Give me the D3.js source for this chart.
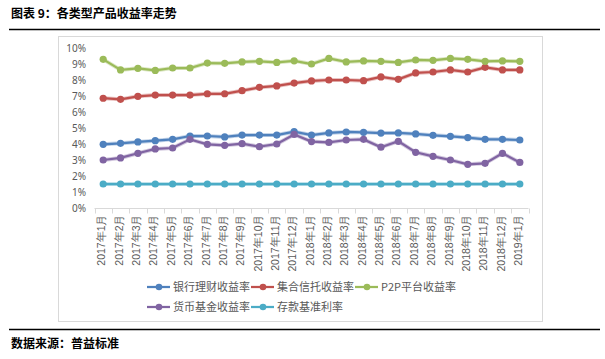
<!DOCTYPE html>
<html><head><meta charset="utf-8">
<script src="https://cdn.jsdelivr.net/npm/d3@7"></script>
<style>
html,body{margin:0;padding:0;background:#fff;}
svg{display:block;font-family:"Noto Sans CJK SC","Noto Sans",sans-serif;}
</style></head>
<body><svg id="c" width="605" height="359"></svg>
<script>
const categories = ["2017年1月","2017年2月","2017年3月","2017年4月","2017年5月","2017年6月","2017年7月","2017年8月","2017年9月","2017年10月","2017年11月","2017年12月","2018年1月","2018年2月","2018年3月","2018年4月","2018年5月","2018年6月","2018年7月","2018年8月","2018年9月","2018年10月","2018年11月","2018年12月","2019年1月"];
const bank  = [3.98,4.04,4.13,4.21,4.29,4.50,4.50,4.44,4.56,4.56,4.56,4.77,4.56,4.69,4.75,4.73,4.68,4.69,4.63,4.54,4.48,4.40,4.29,4.29,4.25];
const trust = [6.86,6.79,6.98,7.06,7.06,7.06,7.14,7.14,7.33,7.54,7.63,7.81,7.94,8.00,8.00,7.96,8.19,8.04,8.44,8.50,8.63,8.50,8.79,8.63,8.63];
const p2p   = [9.29,8.63,8.73,8.60,8.75,8.75,9.06,9.04,9.13,9.17,9.10,9.20,9.00,9.35,9.13,9.19,9.17,9.10,9.25,9.23,9.35,9.29,9.17,9.19,9.17];
const money = [3.00,3.13,3.42,3.69,3.75,4.29,3.98,3.92,4.02,3.83,4.00,4.60,4.15,4.10,4.25,4.29,3.80,4.17,3.48,3.23,3.00,2.73,2.79,3.42,2.85];
const deposit = [1.5,1.5,1.5,1.5,1.5,1.5,1.5,1.5,1.5,1.5,1.5,1.5,1.5,1.5,1.5,1.5,1.5,1.5,1.5,1.5,1.5,1.5,1.5,1.5,1.5];
const seriesNames = ["银行理财收益率","集合信托收益率","P2P平台收益率","货币基金收益率","存款基准利率"];
const yTicks = [0,1,2,3,4,5,6,7,8,9,10];
const title = "图表 9：各类型产品收益率走势";
const source = "数据来源：普益标准";

const colors = ["#4F81BD","#C0504D","#9BBB59","#8064A2","#4BACC6"];
const seriesData = [bank, trust, p2p, money, deposit];

const svg = d3.select("#c");
// title
svg.append("text").attr("x",11).attr("y",18).attr("font-size",12).attr("font-weight","bold").attr("fill","#000").text(title);
svg.append("line").attr("x1",9).attr("x2",600).attr("y1",29.5).attr("y2",29.5).attr("stroke","#000").attr("stroke-width",1.5);
svg.append("line").attr("x1",9).attr("x2",600).attr("y1",329.5).attr("y2",329.5).attr("stroke","#000").attr("stroke-width",1.5);
svg.append("text").attr("x",11).attr("y",348).attr("font-size",12).attr("font-weight","bold").attr("fill","#000").text(source);

// chart box
svg.append("rect").attr("x",58.5).attr("y",36.5).attr("width",484).attr("height",285).attr("fill","#fff").attr("stroke","#d9d9d9");

const x = d3.scaleBand().domain(categories).range([94.5,528.5]);
const y = d3.scaleLinear().domain([0,10]).range([208,48]);

// y labels
const ya = svg.append("g").attr("transform","translate(86,0)")
  .call(d3.axisLeft(y).tickValues(yTicks).tickSize(0).tickPadding(0).tickFormat(d=>d+"%"));
ya.select(".domain").remove();
ya.selectAll("text").attr("font-size",10).attr("fill","#595959").attr("font-family","'Noto Sans',sans-serif");

// x axis
const xa = svg.append("g").attr("transform","translate(0,208.5)")
  .call(d3.axisBottom(x).tickSize(0).tickFormat(d=>d));
xa.select(".domain").attr("stroke","#d9d9d9").attr("d","M94.5,0H528.5");
xa.selectAll(".tick line").remove();
xa.selectAll(".tick text").attr("font-size",10.5).attr("fill","#595959")
  .attr("text-anchor","end").attr("transform","rotate(-90)")
  .attr("x",-6).attr("y",-1.5).attr("dy","0.35em");
// boundary ticks
const bounds = categories.map(c=>x(c)).concat([x.range()[1]]);
svg.append("g").selectAll("line").data(bounds).join("line")
  .attr("x1",d=>Math.round(d)+0.5).attr("x2",d=>Math.round(d)+0.5)
  .attr("y1",208.5).attr("y2",213.5).attr("stroke","#d9d9d9");

const cx = c => x(c) + x.bandwidth()/2;
const line = d3.line().x((d,i)=>cx(categories[i])).y(d=>y(d));

const order = [0,1,2,3,4];
order.forEach(k=>{
  const g = svg.append("g");
  g.append("path").datum(seriesData[k]).attr("d",line).attr("fill","none")
    .attr("stroke",colors[k]).attr("stroke-opacity",0.35).attr("stroke-width",4);
  g.append("path").datum(seriesData[k]).attr("d",line).attr("fill","none")
    .attr("stroke",colors[k]).attr("stroke-width",2.25);
  g.selectAll("circle").data(seriesData[k]).join("circle")
    .attr("cx",(d,i)=>cx(categories[i])).attr("cy",d=>y(d)).attr("r",3.6).attr("fill",colors[k]);
});

// legend
const legPos = [[147,287],[251,287],[355,287],[147,307],[251,307]];
seriesNames.forEach((n,k)=>{
  const [lx,ly] = legPos[k];
  const g = svg.append("g");
  g.append("line").attr("x1",lx).attr("x2",lx+23).attr("y1",ly).attr("y2",ly).attr("stroke",colors[k]).attr("stroke-width",2.25);
  g.append("circle").attr("cx",lx+12).attr("cy",ly).attr("r",3.3).attr("fill",colors[k]);
  g.append("text").attr("x",lx+26).attr("y",ly).attr("dy","0.36em").attr("font-size",11).attr("fill","#595959").text(n);
});
</script></body></html>
